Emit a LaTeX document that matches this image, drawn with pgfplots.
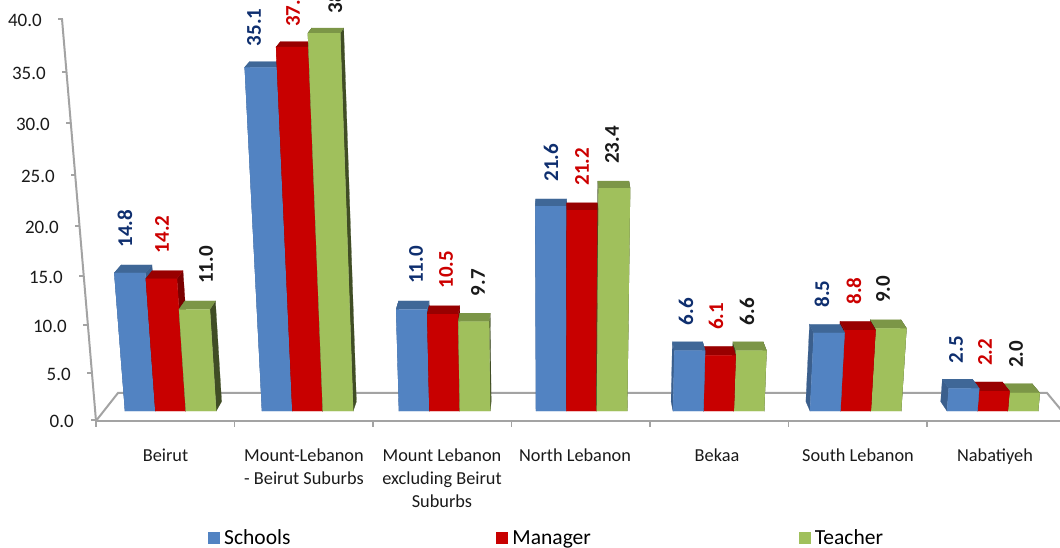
\documentclass[border=0pt]{standalone}
\usepackage{pgfplots}
\usepackage{pgfplotstable}
\usepackage{fontspec}
\setmainfont{Carlito}
\pgfplotsset{compat=1.18}

\definecolor{blueF}{HTML}{5283C2}\definecolor{blueT}{HTML}{3F6797}\definecolor{blueS}{HTML}{3B5F8D}
\definecolor{redF}{HTML}{C80000}\definecolor{redT}{HTML}{980000}\definecolor{redS}{HTML}{7A0000}
\definecolor{greenF}{HTML}{A0C05C}\definecolor{greenT}{HTML}{7C9647}\definecolor{greenS}{HTML}{404D25}
\definecolor{axisgray}{HTML}{A3A3A3}
\definecolor{lblue}{HTML}{0F2F6F}\definecolor{lred}{HTML}{CC0000}\definecolor{lblack}{HTML}{1A1A1A}

% x0 = left edge of the group at the floor, l* = where the rotated labels sit
\pgfplotstableread{
x0  s    m    t    ls   lm   lt
125 14.8 14.2 11.0 125  162  206
262 35.1 37.0 38.3 254  293  335
399 11.0 10.5 9.7  416  446  478
536 21.6 21.2 23.4 551  582  612
673 6.6  6.1  6.6  686  716  747
810 8.5  8.8  9.0  822  854  883
947 2.5  2.2  2.0  956  985  1016
}\regions

\pgfplotstableread{
tx ty    lab
42 39.46 40.0
46 34.50 35.0
50 29.63 30.0
55 24.55 25.0
59 19.45 20.0
63 14.33 15.0
67 9.20  10.0
71 4.04  5.0
74 -1.15 0.0
}\yticks

% one bar with fake perspective: fans out from x=553, back face pushed in
\newcommand{\onebar}[5]{%
  \pgfmathsetmacro\xa{#1}%
  \pgfmathsetmacro\xb{#1+30.4}%
  \pgfmathsetmacro\xc{\xb+(\xb-553)*0.0017*#2}%
  \pgfmathsetmacro\xd{\xa+(\xa-553)*0.0017*#2}%
  \pgfmathsetmacro\xA{\xa-(\xa-553)*0.016}%
  \pgfmathsetmacro\xB{\xb-(\xb-553)*0.016}%
  \pgfmathsetmacro\xC{\xc-(\xc-553)*0.016}%
  \pgfmathsetmacro\xD{\xd-(\xd-553)*0.016}%
  \pgfmathsetmacro\vb{#2+1.05-0.015*#2}%
  \addplot[fill=#5,draw=#5,line width=0.2pt,forget plot] coordinates {(\xb,0)(\xB,1.05)(\xC,\vb)(\xc,#2)} --cycle;
  \addplot[fill=#5,draw=#5,line width=0.2pt,forget plot] coordinates {(\xa,0)(\xA,1.05)(\xD,\vb)(\xd,#2)} --cycle;
  \addplot[fill=#4,draw=#4,line width=0.2pt,forget plot] coordinates {(\xd,#2)(\xD,\vb)(\xC,\vb)(\xc,#2)} --cycle;
  \addplot[fill=#3,draw=#3,line width=0.2pt,forget plot] coordinates {(\xa,0)(\xb,0)(\xc,#2)(\xd,#2)} --cycle;
}

\begin{document}
\begin{tikzpicture}
\clip[use as bounding box] (0pt,-107pt) rectangle (1060pt,440pt);
\begin{axis}[
  at={(0pt,0pt)}, anchor=south west,
  scale only axis, x=1pt, y=1pt,
  xmin=0, xmax=1060, ymin=-3.25, ymax=41.36,
  y coord trafo/.code={\pgfmathparse{8.99*(#1)+0.0229*(#1)*(#1)}},
  clip=false,
  axis x line*=bottom, axis y line=none,
  x axis line style={draw=none},
  major tick length=0pt,
  ytick=\empty,
  xtick={165.5,304,442,575,717,858,995},
  xticklabels={Beirut,Mount-Lebanon\\- Beirut Suburbs,Mount Lebanon\\excluding Beirut\\Suburbs,North Lebanon,Bekaa,South Lebanon,Nabatiyeh},
  xticklabel style={align=center,font=\fontsize{18.3}{23}\selectfont,text=lblack,yshift=-5pt},
  legend style={at={(208pt,-98pt)},anchor=west,draw=none,fill=none,legend columns=3,
    font=\fontsize{21.5}{23}\selectfont,inner sep=0pt,
    /tikz/column 1/.style={column sep=2pt},/tikz/column 3/.style={column sep=2pt},/tikz/column 5/.style={column sep=2pt},
    /tikz/column 2/.style={column sep=204pt},/tikz/column 4/.style={column sep=206pt}},
  legend image code/.code={\fill[#1,draw=none] (0pt,-6pt) rectangle (12pt,6pt);},
  /pgf/number format/assume math mode=true,
  /pgf/number format/.cd,fixed,fixed zerofill,precision=1,/tikz/.cd,
]
% floor and axis lines
\addplot[axisgray,line width=2pt,forget plot] coordinates {(96,-1.1)(118,2)(1047,2)(1062,0)};
\addplot[axisgray,line width=2pt,forget plot] coordinates {(96,-1.1)(1062,-1.1)};
\addplot[axisgray,line width=2pt,forget plot] coordinates {(96,-1.1)(62,39.61)};
\pgfplotsforeachungrouped \tx/\ty in {58/39.61,62/34.65,66/29.78,71/24.70,75/19.60,79/14.48,83/9.35,87/4.19,91/-1.00}{
  \addplot[axisgray,line width=1.7pt,forget plot] coordinates {(\tx,\ty)(\tx+5,\ty)};
}
\pgfplotsforeachungrouped \tx in {96,234.5,373,511.5,650,788.5,927}{
  \addplot[axisgray,line width=1.7pt,forget plot] coordinates {(\tx,-1.1)(\tx,-1.75)};
}
% bars, outer ones first so the nearer faces cover them
\pgfplotsforeachungrouped \r in {0,1,2,3,6,5,4}{
  \pgfplotstablegetelem{\r}{x0}\of\regions\let\gx\pgfplotsretval
  \pgfplotstablegetelem{\r}{s}\of\regions\let\gs\pgfplotsretval
  \pgfplotstablegetelem{\r}{m}\of\regions\let\gm\pgfplotsretval
  \pgfplotstablegetelem{\r}{t}\of\regions\let\gt\pgfplotsretval
  \pgfmathsetmacro\gxm{\gx+30.4}
  \pgfmathsetmacro\gxt{\gx+60.8}
  \ifnum\r<4
    \onebar{\gx}{\gs}{blueF}{blueT}{blueS}
    \onebar{\gxm}{\gm}{redF}{redT}{redS}
    \onebar{\gxt}{\gt}{greenF}{greenT}{greenS}
  \else
    \onebar{\gxt}{\gt}{greenF}{greenT}{greenS}
    \onebar{\gxm}{\gm}{redF}{redT}{redS}
    \onebar{\gx}{\gs}{blueF}{blueT}{blueS}
  \fi
}
% value labels
\addplot[draw=none,forget plot,point meta=\thisrow{s},nodes near coords,
  every node near coord/.append style={rotate=90,anchor=west,inner sep=0pt,text=lblue,font=\fontsize{21}{21}\selectfont\bfseries}]
  table[x=ls,y expr=\thisrow{s}+(26-0.006*\thisrow{s}*\thisrow{s})/9.5] {\regions};
\addplot[draw=none,forget plot,point meta=\thisrow{m},nodes near coords,
  every node near coord/.append style={rotate=90,anchor=west,inner sep=0pt,text=lred,font=\fontsize{21}{21}\selectfont\bfseries}]
  table[x=lm,y expr=\thisrow{m}+(26-0.006*\thisrow{m}*\thisrow{m})/9.5] {\regions};
\addplot[draw=none,forget plot,point meta=\thisrow{t},nodes near coords,
  every node near coord/.append style={rotate=90,anchor=west,inner sep=0pt,text=lblack,font=\fontsize{21}{21}\selectfont\bfseries}]
  table[x=lt,y expr=\thisrow{t}+(26-0.006*\thisrow{t}*\thisrow{t})/9.5] {\regions};
% tick labels follow the leaning axis
\addplot[draw=none,forget plot,point meta=explicit symbolic,nodes near coords={\pgfplotspointmeta},
  every node near coord/.append style={anchor=east,inner sep=0pt,text=lblack,font=\fontsize{19}{19}\selectfont}]
  table[x=tx,y=ty,meta=lab] {\yticks};
\addlegendimage{fill=blueF}\addlegendentry{Schools}
\addlegendimage{fill=redF}\addlegendentry{Manager}
\addlegendimage{fill=greenF}\addlegendentry{Teacher}
\end{axis}
\end{tikzpicture}
\end{document}
